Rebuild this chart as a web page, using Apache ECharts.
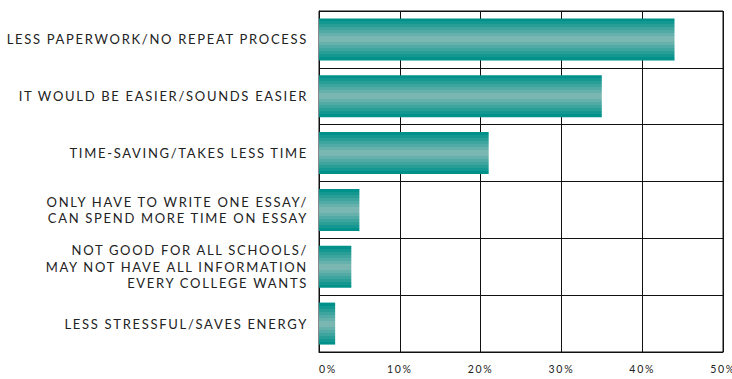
<!DOCTYPE html>
<html>
<head>
<meta charset="utf-8">
<script src="https://cdn.jsdelivr.net/npm/echarts@6/dist/echarts.min.js"></script>
<style>
  html, body { margin: 0; padding: 0; background: #fff; }
  #chart { width: 732px; height: 379px; }
  #chart svg text { letter-spacing: 1.7px; }
</style>
</head>
<body>
<div id="chart"></div>
<script>
// Reasons given for preferring a single common application
const categories = [
  'LESS PAPERWORK/NO REPEAT PROCESS',
  'IT WOULD BE EASIER/SOUNDS EASIER',
  'TIME-SAVING/TAKES LESS TIME',
  'ONLY HAVE TO WRITE ONE ESSAY/\nCAN SPEND MORE TIME ON ESSAY',
  'NOT GOOD FOR ALL SCHOOLS/\nMAY NOT HAVE ALL INFORMATION\nEVERY COLLEGE WANTS',
  'LESS STRESSFUL/SAVES ENERGY'
];
const percentages = [44, 35, 21, 5, 4, 2];
const axisTicks = [0, 10, 20, 30, 40, 50];

// Banded teal shading: dark at the edges, pale through the middle
const edge = [0, 145, 138];
const mid = [122, 183, 178];
const bands = 7;
const stops = [];
for (let i = 0; i < bands * 2; i++) {
  const d = i < bands ? i : bands * 2 - 1 - i;
  const t = d / (bands - 1);
  const c = edge.map((e, k) => Math.round(e + (mid[k] - e) * t));
  const col = 'rgb(' + c.join(',') + ')';
  stops.push({ offset: i / (bands * 2), color: col });
  stops.push({ offset: (i + 1) / (bands * 2), color: col });
}

const chart = echarts.init(document.getElementById('chart'), null, { renderer: 'svg' });
chart.setOption({
  animation: false,
  grid: {
    left: 319, right: 9, top: 11, bottom: 27,
    outerBoundsMode: 'none',
    containLabel: false,
    show: true, borderColor: '#111', borderWidth: 1
  },
  xAxis: {
    type: 'value',
    min: axisTicks[0],
    max: axisTicks[axisTicks.length - 1],
    interval: axisTicks[1] - axisTicks[0],
    axisLine: { show: true, lineStyle: { color: '#111', width: 1 } },
    axisTick: { show: false },
    splitLine: { show: true, lineStyle: { color: '#111', width: 1 } },
    axisLabel: {
      formatter: '{value}%',
      fontFamily: 'Lato, sans-serif',
      fontSize: 10.5,
      color: '#222',
      margin: 11,
      alignMinLabel: 'left',
      hideOverlap: false
    }
  },
  yAxis: {
    type: 'category',
    data: categories,
    inverse: true,
    axisLine: { show: true, lineStyle: { color: '#111', width: 1 } },
    axisTick: { show: false },
    splitLine: { show: true, lineStyle: { color: '#111', width: 1 } },
    axisLabel: {
      fontFamily: 'Lato, sans-serif',
      fontSize: 13,
      color: '#222',
      margin: 11,
      lineHeight: 16.5,
      align: 'right'
    }
  },
  series: [{
    type: 'bar',
    data: percentages,
    barWidth: 42,
    itemStyle: {
      color: new echarts.graphic.LinearGradient(0, 0, 0, 1, stops)
    }
  }]
});
</script>
</body>
</html>
